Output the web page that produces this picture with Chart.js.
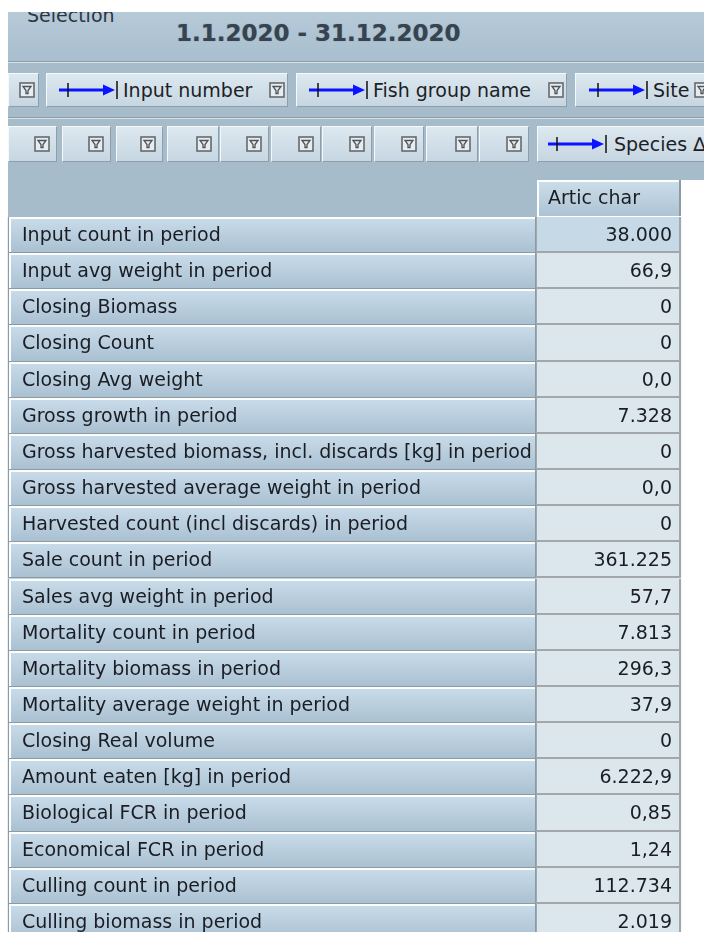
<!DOCTYPE html>
<html>
<head>
<meta charset="utf-8">
<script src="https://cdn.jsdelivr.net/npm/chart.js@4.4.1/dist/chart.umd.min.js"></script>
<style>
  body { margin: 0; background: #fff; width: 704px; height: 932px; overflow: hidden; position: relative;
         font-family: 'DejaVu Sans', sans-serif; color: #1c1f26; }
  .panel { position: absolute; left: 8px; top: 12px; width: 696px; height: 168px; overflow: hidden;
           background: #a7bccb; }
  .top { position: absolute; left: 0; top: 0; width: 696px; height: 49px;
         background: linear-gradient(#b6cad8, #a9bece); }
  .sep { position: absolute; left: 0; width: 696px; height: 1px; background: #8d9ea9;
         box-shadow: 0 1px 0 #d6e2ea; }
  .txt { position: absolute; white-space: nowrap; font-size: 19px; }
  .btn { position: absolute; box-sizing: border-box; background: linear-gradient(#dde8ef, #c6d6e2);
         border: 1px solid; border-color: #f6f9fb #8f9ea8 #8f9ea8 #f6f9fb; }
  svg { position: absolute; }
  #grid { position: absolute; left: 0; top: 180px; }
</style>
</head>
<body>
<div class="panel" id="panel">
  <div class="top"></div>
  <div class="txt" style="left:19px;top:-12px;line-height:30px;color:#2b3543">Selection</div>
  <div class="txt" id="range" style="left:168px;top:6px;line-height:30px;font-size:23px;font-weight:bold;color:#37434f;text-shadow:0 0 1px rgba(60,80,100,0.6)"></div>
  <div class="sep" style="top:49px"></div>
  <div class="sep" style="top:105px"></div>
</div>
<canvas id="grid" width="704" height="760"></canvas>
<script>
// pivot data
const dateRange = '1.1.2020 - 31.12.2020';
const columnHeader = 'Artic char';
const rowLabels = [
  'Input count in period',
  'Input avg weight in period',
  'Closing Biomass',
  'Closing Count',
  'Closing Avg weight',
  'Gross growth in period',
  'Gross harvested biomass, incl. discards [kg] in period',
  'Gross harvested average weight in period',
  'Harvested count (incl discards) in period',
  'Sale count in period',
  'Sales avg weight in period',
  'Mortality count in period',
  'Mortality biomass in period',
  'Mortality average weight in period',
  'Closing Real volume',
  'Amount eaten [kg] in period',
  'Biological FCR in period',
  'Economical FCR in period',
  'Culling count in period',
  'Culling biomass in period'
];
const values = [38000, 66.9, 0, 0, 0.0, 7328, 0, 0.0, 0, 361225, 57.7, 7813, 296.3, 37.9, 0, 6222.9, 0.85, 1.24, 112734, 2019];
const decimals = [0, 1, 0, 0, 1, 0, 0, 1, 0, 0, 1, 0, 1, 1, 0, 1, 2, 2, 0, 0];

// toolbar fields
const rowFields = ['Input number', 'Fish group name', 'Site'];
const colFields = ['Species'];

// layout (pixels)
const TABLE_LEFT = 8;
const LABEL_RIGHT = 536;
const VALUE_RIGHT = 681;
const FONT = "19px 'DejaVu Sans'";

document.getElementById('range').textContent = dateRange;

function fmt(v, d) {
  const parts = v.toFixed(d).split('.');
  parts[0] = parts[0].replace(/\B(?=(\d{3})+(?!\d))/g, '.');
  return parts.join(',');
}

function filterIcon(x, y) {
  return `<svg style="left:${x}px;top:${y}px" width="16" height="16" viewBox="0 0 16 16">
    <rect x="1" y="1" width="14" height="14" fill="#e6edf2" stroke="#66696c" stroke-width="1.6"/>
    <path d="M4 4.5 H12 L9 8.5 V11.5 H7 V8.5 Z" fill="none" stroke="#505458" stroke-width="1.3"/></svg>`;
}

function arrow(x, y) {
  return `<svg style="left:${x}px;top:${y}px" width="62" height="20" viewBox="0 0 62 20">
    <line x1="1" y1="10" x2="50" y2="10" stroke="#0a14ff" stroke-width="3"/>
    <path d="M45 4.5 L57 10 L45 15.5 Z" fill="#0a14ff"/>
    <line x1="10" y1="3" x2="10" y2="17" stroke="#111" stroke-width="1.5"/>
    <line x1="59" y1="1" x2="59" y2="19" stroke="#111" stroke-width="1.5"/></svg>`;
}

function button(l, r, t, b) {
  return `<div class="btn" style="left:${l}px;top:${t}px;width:${r - l}px;height:${b - t}px"></div>`;
}

function buildToolbar() {
  const off = 8, offY = 12;
  let html = '';
  // row fields
  const r1 = [[8, 39], [46, 288], [296, 567], [575, 720]];
  r1.forEach(([l, r]) => html += button(l - off, r - off, 73 - offY, 107 - offY));
  html += filterIcon(19 - off, 82 - offY);
  const starts = [58, 308, 588];
  const icons = [269, 548, 694];
  rowFields.forEach((name, i) => {
    html += arrow(starts[i] - off, 80 - offY);
    html += `<div class="txt" style="left:${starts[i] + 65 - off}px;top:${75 - offY}px;line-height:30px">${name}</div>`;
    html += filterIcon(icons[i] - off, 82 - offY);
  });
  // column fields
  const r2 = [[8, 57], [62, 111], [116, 163], [167, 219], [220, 269], [271, 321], [322, 372], [374, 424], [426, 478], [479, 529]];
  r2.forEach(([l, r]) => {
    html += button(l - off, r - off, 126 - offY, 162 - offY);
    html += filterIcon(r - 23 - off, 136 - offY);
  });
  html += button(537 - off, 720 - off, 126 - offY, 162 - offY);
  html += arrow(547 - off, 134 - offY);
  html += `<div class="txt" style="left:${614 - off}px;top:${129 - offY}px;line-height:30px">${colFields[0]} &#8710;</div>`;
  document.getElementById('panel').insertAdjacentHTML('beforeend', html);
}
buildToolbar();

const pivotCells = {
  id: 'pivotCells',
  beforeDraw(chart) {
    const c = chart.ctx;
    c.save();
    c.fillStyle = '#a7bccb';
    c.fillRect(TABLE_LEFT, 0, LABEL_RIGHT + 1 - TABLE_LEFT, chart.chartArea.top);
    c.restore();
  },
  afterDatasetsDraw(chart) {
    const c = chart.ctx;
    const labMeta = chart.getDatasetMeta(0);
    const valMeta = chart.getDatasetMeta(1);
    c.save();
    c.font = FONT;
    c.textBaseline = 'middle';

    labMeta.data.forEach((bar, i) => {
      const p = bar.getProps(['x', 'y', 'base', 'height'], true);
      const left = Math.round(p.base), right = Math.round(p.x);
      const top = Math.round(p.y - p.height / 2), bottom = Math.round(p.y + p.height / 2);
      const w = right - left, h = bottom - top;
      const g = c.createLinearGradient(0, top, 0, bottom);
      g.addColorStop(0, '#cadcea');
      g.addColorStop(1, '#a9c0d1');
      c.fillStyle = g;
      c.fillRect(left, top, w, h);
      c.fillStyle = '#fbfdfe';
      c.fillRect(left + 1, top, w - 2, 2);
      c.fillRect(left + 1, top, 2, h - 1);
      c.fillStyle = '#8c9aa4';
      c.fillRect(left, top, 1, h);
      c.fillRect(left, bottom - 1, w, 1);
      c.fillRect(right - 1, top, 1, h);
      c.fillStyle = '#1a1d24';
      c.textAlign = 'left';
      c.fillText(rowLabels[i], left + 14, p.y + 1);
    });

    valMeta.data.forEach((bar, i) => {
      const p = bar.getProps(['x', 'y', 'base', 'height'], true);
      const left = Math.round(p.base), right = Math.round(p.x);
      const top = Math.round(p.y - p.height / 2), bottom = Math.round(p.y + p.height / 2);
      const w = right - left, h = bottom - top;
      c.fillStyle = i === 0 ? '#c6d9e6' : '#dbe6ed';
      c.fillRect(left, top, w, h);
      c.fillStyle = '#a2a7ab';
      c.fillRect(left, top, 1, h);
      c.fillRect(left, bottom - 2, w, 2);
      c.fillRect(right - 2, top, 2, h);
      c.fillStyle = '#1a1d24';
      c.textAlign = 'right';
      c.fillText(fmt(values[i], decimals[i]), right - 9, p.y + 1);
    });

    // column header cell
    const first = valMeta.data[0].getProps(['x', 'base', 'height'], true);
    const hl = Math.round(first.base) + 1, hr = Math.round(first.x);
    const ht = 0, hb = Math.round(chart.chartArea.top) - 1;
    const g = c.createLinearGradient(0, ht, 0, hb);
    g.addColorStop(0, '#cddeea');
    g.addColorStop(1, '#adc3d3');
    c.fillStyle = g;
    c.fillRect(hl, ht, hr - hl, hb - ht);
    c.fillStyle = '#fbfdfe';
    c.fillRect(hl, ht, hr - hl, 2);
    c.fillRect(hl, ht, 2, hb - ht);
    c.fillStyle = '#8c9aa4';
    c.fillRect(hr - 2, ht, 2, hb - ht);
    c.fillStyle = '#1a1d24';
    c.textAlign = 'left';
    c.fillText(columnHeader, hl + 11, (ht + hb) / 2 + 1);
    c.restore();
  }
};

new Chart(document.getElementById('grid'), {
  type: 'bar',
  data: {
    labels: rowLabels,
    datasets: [
      { label: 'Measure', data: rowLabels.map(() => [TABLE_LEFT, LABEL_RIGHT]), backgroundColor: '#bcd0de', borderWidth: 0 },
      { label: columnHeader, data: values.map(() => [LABEL_RIGHT, VALUE_RIGHT]), backgroundColor: '#dbe6ed', borderWidth: 0 }
    ]
  },
  options: {
    indexAxis: 'y',
    responsive: false,
    animation: false,
    devicePixelRatio: 1,
    layout: { padding: { top: 37, left: 0, right: 0, bottom: 0 } },
    datasets: { bar: { barPercentage: 1, categoryPercentage: 1, grouped: false } },
    scales: {
      x: { type: 'linear', min: 0, max: 704, display: false },
      y: { type: 'category', display: false }
    },
    plugins: { legend: { display: false }, tooltip: { enabled: false } }
  },
  plugins: [pivotCells]
});
</script>
</body>
</html>
